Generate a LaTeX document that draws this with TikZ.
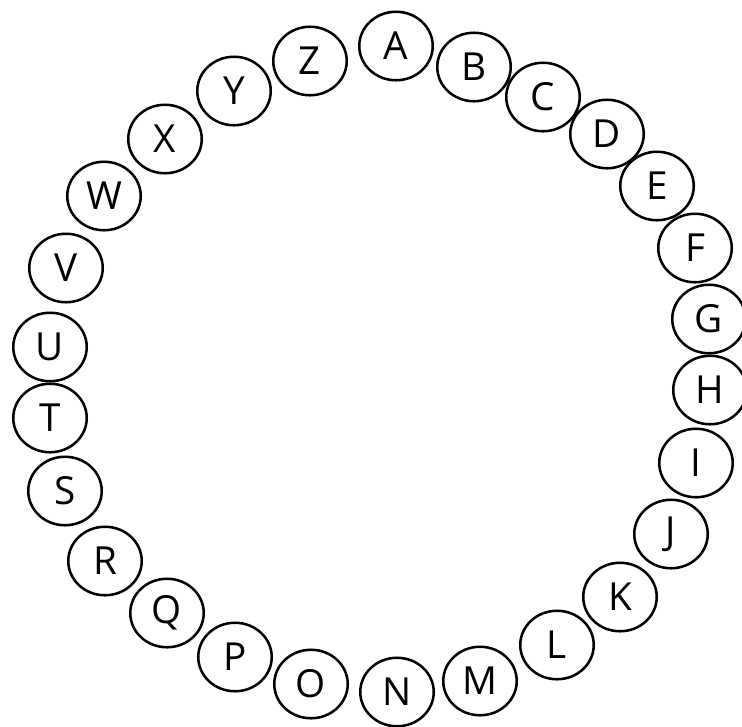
\documentclass[tikz,border=0pt]{standalone}
\usepackage{fontspec}
\setmainfont{Open Sans}
\usetikzlibrary{shapes.geometric}

\tikzset{every picture/.style={line width=0.75pt}}
\tikzset{letterring/.style={draw, ellipse, line width=1.9pt, minimum width=73.5*0.75pt, minimum height=68.5*0.75pt, inner sep=0pt, font=\fontsize{29}{29}\selectfont}}

\begin{document}
\begin{tikzpicture}[x=0.75pt,y=0.75pt,yscale=-1,xscale=1]
%set diagram size to 742 x 726
\useasboundingbox (0,0) rectangle (742,726);

%Shape: Ellipse, one per letter
\foreach \l/\x/\y in {A/396/46, B/474/67, C/543/97, D/607/134, E/657/186,
  F/695/248, G/709/319, H/710/390, I/696/463, J/671/534, K/620/597,
  L/557/645, M/480/681, N/397/692, O/311/684, P/235/657, Q/167/613,
  R/105/561, S/65/491, T/50/418, U/50/347, V/66/268, W/104/196,
  X/165/139, Y/234/91, Z/310/61}
  \node [letterring] (\l) at (\x,\y) {\l};

\end{tikzpicture}
\end{document}
